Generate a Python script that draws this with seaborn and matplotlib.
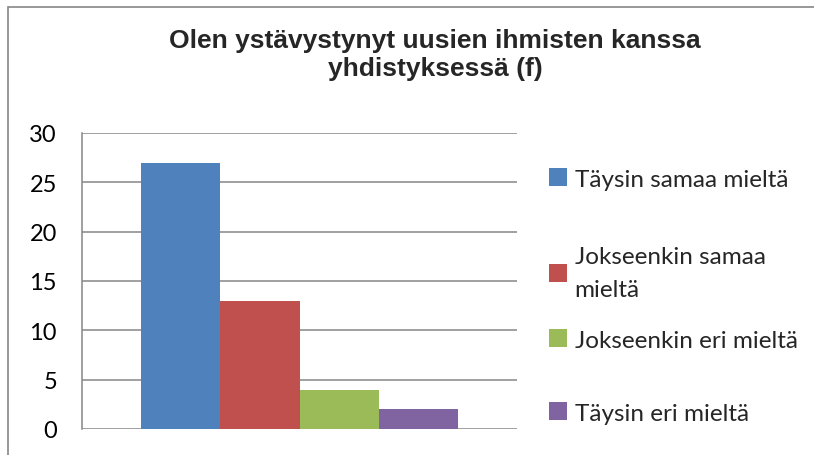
import pandas as pd
import numpy as np
import seaborn as sns
import matplotlib.pyplot as plt
from matplotlib.patches import Rectangle

# data
categories = ['Täysin samaa mieltä', 'Jokseenkin samaa\nmieltä',
              'Jokseenkin eri mieltä', 'Täysin eri mieltä']
values = [27, 13, 4, 2]
colors = ['#4F81BD', '#C0504D', '#9BBB59', '#8064A2']
yticks = [0, 5, 10, 15, 20, 25, 30]
title = 'Olen ystävystynyt uusien ihmisten kanssa\nyhdistyksessä (f)'

df = pd.DataFrame({'group': [''] * len(values), 'answer': categories, 'n': values})

sns.set_style('white')
plt.rcParams['font.family'] = ['Lato', 'DejaVu Sans']

fig = plt.figure(figsize=(8.14, 4.56), dpi=100)
ax = fig.add_axes([82 / 814, 26 / 456, 435 / 814, 296 / 456])

sns.barplot(data=df, x='group', y='n', hue='answer', palette=colors,
            width=0.727, gap=0, saturation=1, ax=ax, legend=True)

ax.set_ylim(0, 30)
ax.set_xlim(-0.5, 0.5)
ax.set_yticks(yticks)
ax.yaxis.grid(True, color='#868686', linewidth=1.1)
ax.set_axisbelow(True)
ax.set_xticks([])
ax.set_xlabel('')
ax.set_ylabel('')
ax.tick_params(axis='y', length=0, pad=18, labelsize=17, labelcolor='black')
for s in ['top', 'right', 'bottom']:
    ax.spines[s].set_visible(False)
ax.spines['left'].set_color('#868686')
ax.spines['left'].set_linewidth(1.1)
for b in ax.patches:
    b.set_edgecolor('none')

# excel spaces legend entries unevenly, so place each one on its own
handles, labels = ax.get_legend_handles_labels()
ax.get_legend().remove()
entry_y = [180, 274, 341, 414]
for h, l, y in zip(handles, labels, entry_y):
    leg = fig.legend([h], [l], loc='center left',
                     bbox_to_anchor=(549 / 814, 1 - y / 456),
                     frameon=False, fontsize=17.5, handlelength=0.75,
                     handleheight=0.75, handletextpad=0.3, borderaxespad=0,
                     borderpad=0)
    for t in leg.get_texts():
        t.set_linespacing(1.65)

fig.text(435 / 814, 1 - 55 / 456, title, ha='center', va='center',
         fontsize=19, fontweight='bold', family='Liberation Sans',
         linespacing=1.2)

# chart border (only top and left edges show in the crop)
fig.patches.append(Rectangle((8 / 814, -0.1), 1.2, (456 - 8) / 456 + 0.1,
                             transform=fig.transFigure, fill=False,
                             edgecolor='#868686', linewidth=1.2))

fig.savefig('out.png', dpi=100)
